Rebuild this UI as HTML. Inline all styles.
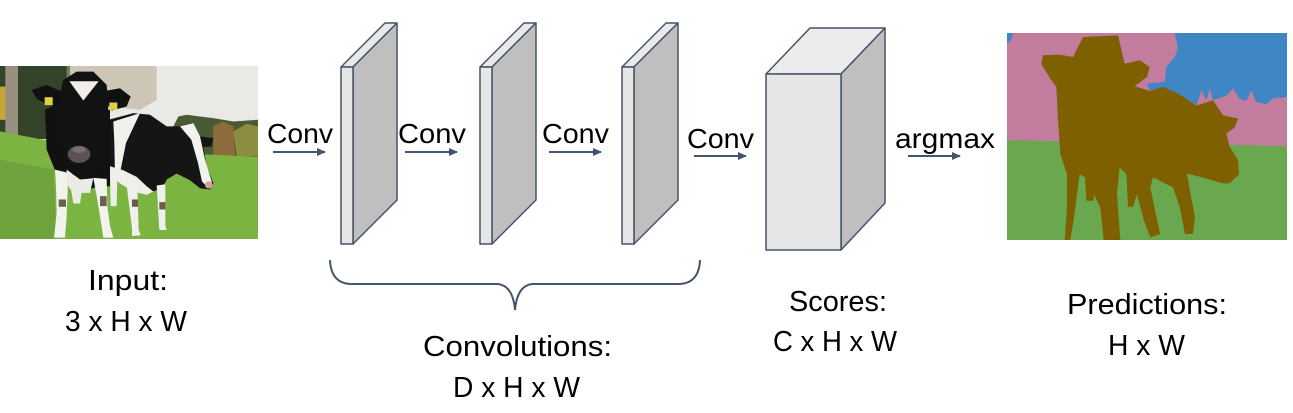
<!DOCTYPE html>
<html><head><meta charset="utf-8"><style>
html,body{margin:0;padding:0;background:#fff;}
svg{display:block;}
text{font-family:"Liberation Sans",Arial,sans-serif;fill:#000;}
</style></head><body>
<svg width="1293" height="413" viewBox="0 0 1293 413" xmlns="http://www.w3.org/2000/svg">
<defs>
<marker id="ah" markerWidth="10" markerHeight="10" refX="8" refY="4" orient="auto" markerUnits="userSpaceOnUse">
<path d="M0,0 L9,4 L0,8 Z" fill="#44546a"/>
</marker>
</defs>
<rect width="1293" height="413" fill="#fff"/>

<!-- Cow photo -->
<svg x="0" y="66" width="258" height="173" viewBox="0 18 774 521" preserveAspectRatio="none">
<rect x="0" y="18" width="774" height="521" fill="#e9eae6"/>
<rect x="0" y="18" width="210" height="220" fill="#34442b"/>
<path d="M200,18 L470,18 L470,120 L420,150 L330,140 L260,90 L200,80 Z" fill="#b6a58c" opacity="0.55"/>
<rect x="0" y="80" width="18" height="100" fill="#c9a535"/>
<rect x="16" y="18" width="38" height="215" fill="#998f80"/>
<path d="M520,200 L535,170 L560,165 L600,170 L640,175 L700,185 L774,180 L774,295 L520,290 Z" fill="#4a5a34"/>
<path d="M640,200 L670,185 L700,200 L705,290 L640,290 Z" fill="#9c7040" opacity="0.8"/>
<path d="M700,215 L740,192 L774,200 L774,290 L710,290 Z" fill="#9e9a44" opacity="0.8"/>
<path d="M0,215 L130,240 L400,280 L640,285 L774,292 L774,539 L0,539 Z" fill="#7cb442"/>
<path d="M0,300 L160,330 L170,539 L0,539 Z" fill="#68983a" opacity="0.6"/>
<!-- cow2 -->
<path d="M325,180 L400,160 L450,165 L500,200 L540,200 L575,190 L600,230 L640,235 L635,260 L610,262 L620,320 L640,370 L630,390 L600,386 L570,362 L530,342 L500,360 L490,380 L470,392 L440,402 L400,382 L370,372 L340,352 L325,300 Z" fill="#151515"/>
<path d="M340,185 L420,160 L378,250 L362,330 L345,350 L343,250 Z" fill="#f0f0ec"/>
<path d="M330,320 L370,332 L410,352 L440,380 L460,396 L440,406 L400,396 L360,372 L330,346 Z" fill="#eeeeea"/>
<path d="M540,200 L580,190 L600,230 L615,300 L636,368 L626,386 L606,366 L594,310 L574,240 Z" fill="#f2f2ee"/>
<path d="M380,378 L412,378 L416,510 L422,528 L396,530 L396,508 Z" fill="#f0f0ec"/>
<path d="M470,378 L496,374 L496,498 L500,512 L478,512 Z" fill="#f0f0ec"/>
<path d="M330,345 L352,352 L350,440 L332,440 Z" fill="#eeeeea"/>
<rect x="396" y="420" width="18" height="22" fill="#6a5a4a"/>
<rect x="478" y="428" width="18" height="22" fill="#6a5a4a"/>
<circle cx="626" cy="376" r="11" fill="#dc9c9c"/>
<!-- cow1 -->
<path d="M135,150 L175,130 L330,150 L330,380 L290,382 L250,396 L200,372 L165,332 L140,270 Z" fill="#111"/>
<path d="M165,330 L205,340 L200,470 L195,535 L162,535 L170,460 L168,380 Z" fill="#f2f2ee"/>
<path d="M280,355 L320,358 L322,440 L330,500 L340,535 L310,535 L300,470 L290,410 Z" fill="#f2f2ee"/>
<path d="M200,330 L240,360 L280,356 L270,400 L245,400 L240,432 L220,432 L214,395 L200,372 Z" fill="#ebebe6"/>
<rect x="176" y="420" width="22" height="22" fill="#6e5e4e"/>
<rect x="300" y="410" width="20" height="30" fill="#6e5e4e"/>
<path d="M190,60 L230,35 L280,35 L320,75 L325,140 L320,200 L315,280 L300,330 L270,346 L220,346 L200,320 L185,260 L170,200 L175,120 Z" fill="#121212"/>
<path d="M95,90 L140,75 L185,95 L185,140 L150,137 L110,117 Z" fill="#111"/>
<rect x="134" y="112" width="24" height="24" fill="#e2d040"/>
<path d="M320,92 L360,85 L392,110 L380,140 L335,152 L320,130 Z" fill="#111"/>
<rect x="328" y="128" width="24" height="22" fill="#e2d040"/>
<path d="M208,64 L296,64 L250,122 Z" fill="#f0eee6"/>
<ellipse cx="237" cy="284" rx="34" ry="26" fill="#5c5252"/>
<ellipse cx="237" cy="270" rx="20" ry="10" fill="#7a6e6e"/>
</svg>

<!-- Arrows -->
<g stroke="#44546a" stroke-width="2" fill="none" marker-end="url(#ah)">
<line x1="273" y1="152" x2="325" y2="152"/>
<line x1="405" y1="152" x2="457" y2="152"/>
<line x1="549" y1="152" x2="601" y2="152"/>
<line x1="694" y1="156" x2="746" y2="156"/>
<line x1="908" y1="156" x2="960" y2="156"/>
</g>

<!-- Slabs -->
<g stroke="#44546a" stroke-width="1.5" stroke-linejoin="round">
<polygon points="341,67 353,67 397,23 385,23" fill="#e9e9e9"/>
<polygon points="353,67 397,23 397,200 353,244" fill="#bfbfbf"/>
<rect x="341" y="67" width="12" height="177" fill="#e6e6e6"/>

<polygon points="480,67 492,67 536,23 524,23" fill="#e9e9e9"/>
<polygon points="492,67 536,23 536,200 492,244" fill="#bfbfbf"/>
<rect x="480" y="67" width="12" height="177" fill="#e6e6e6"/>

<polygon points="622,67 634,67 678,23 666,23" fill="#e9e9e9"/>
<polygon points="634,67 678,23 678,200 634,244" fill="#bfbfbf"/>
<rect x="622" y="67" width="12" height="177" fill="#e6e6e6"/>

<polygon points="766,74 841,74 885,28 810,28" fill="#ececec"/>
<polygon points="841,74 885,28 885,203 841,250" fill="#bfbfbf"/>
<rect x="766" y="74" width="75" height="176" fill="#e6e6e6"/>
</g>

<!-- Prediction image -->
<svg x="1007" y="33" width="280" height="207" viewBox="42 38 840 622" preserveAspectRatio="none">
<rect x="42" y="38" width="840" height="622" fill="#c27c9e"/>
<path d="M545,38 L882,38 L882,230 L840,235 L820,252 L790,246 L775,210 L760,242 L740,236 L720,205 L700,226 L660,240 L650,205 L640,240 L625,210 L610,255 L560,222 L520,205 L470,210 L462,190 L515,185 L520,140 L545,110 L555,85 Z" fill="#3f86c4"/>
<path d="M42,38 L60,38 L55,58 L42,70 Z" fill="#3f86c4"/>
<path d="M42,360 L882,378 L882,660 L42,660 Z" fill="#6aa84f"/>
<path d="M270,50 L375,45 L395,130 L440,120 L470,140 L462,170 L425,198 L470,212 L510,200 L560,222 L610,256 L660,240 L690,285 L735,295 L725,322 L700,340 L710,380 L735,420 L738,462 L710,490 L690,490 L620,470 L582,460 L592,520 L606,590 L600,642 L576,642 L560,560 L540,502 L500,482 L480,472 L472,502 L490,590 L502,642 L472,652 L452,600 L432,522 L420,560 L405,560 L400,462 L380,442 L372,522 L382,660 L332,660 L322,562 L302,522 L302,542 L280,542 L276,472 L260,462 L242,600 L232,660 L215,660 L222,562 L222,462 L202,402 L195,300 L190,200 L170,172 L145,132 L150,105 L200,103 L240,110 L255,80 Z" fill="#7f6000"/>
</svg>

<!-- Brace -->
<path d="M330,260 Q331,284 352,284 L498,284 Q513,286 515,310 Q517,286 532,284 L678,284 Q699,284 700,260" stroke="#44546a" stroke-width="2" fill="none"/>

<!-- Labels -->
<g font-size="28">
<text x="267" y="143" textLength="66" lengthAdjust="spacingAndGlyphs">Conv</text>
<text x="398" y="143" textLength="68" lengthAdjust="spacingAndGlyphs">Conv</text>
<text x="542" y="143" textLength="67" lengthAdjust="spacingAndGlyphs">Conv</text>
<text x="687" y="148" textLength="67" lengthAdjust="spacingAndGlyphs">Conv</text>
<text x="895" y="148" textLength="100" lengthAdjust="spacingAndGlyphs">argmax</text>
</g>
<g font-size="29">
<text x="88" y="290" textLength="80" lengthAdjust="spacingAndGlyphs">Input:</text>
<text x="65" y="331" textLength="122" lengthAdjust="spacingAndGlyphs">3 x H x W</text>
<text x="423" y="356" textLength="189" lengthAdjust="spacingAndGlyphs">Convolutions:</text>
<text x="453" y="397" textLength="127" lengthAdjust="spacingAndGlyphs">D x H x W</text>
<text x="789" y="311" textLength="98" lengthAdjust="spacingAndGlyphs">Scores:</text>
<text x="773" y="351" textLength="124" lengthAdjust="spacingAndGlyphs">C x H x W</text>
<text x="1067" y="314" textLength="160" lengthAdjust="spacingAndGlyphs">Predictions:</text>
<text x="1108" y="355" textLength="77" lengthAdjust="spacingAndGlyphs">H x W</text>
</g>
</svg>
</body></html>
